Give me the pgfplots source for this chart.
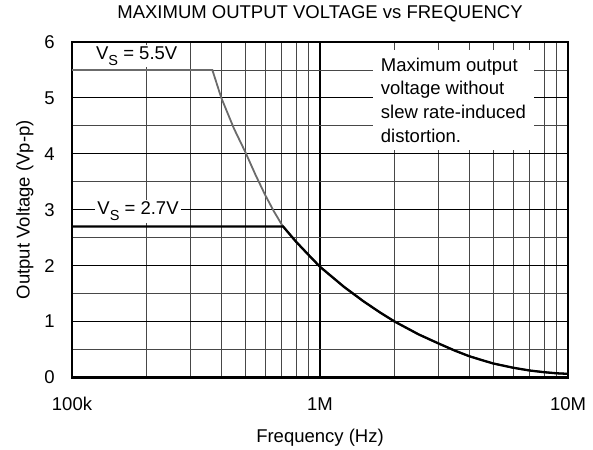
\documentclass[border=0pt]{standalone}
\usepackage{fontspec}
\setmainfont{Liberation Sans}
\usepackage{pgfplots}
\pgfplotsset{compat=1.18}
\newcommand{\subS}{\raisebox{-0.32em}{\fontsize{14.5}{14.5}\selectfont S}}
\begin{document}
\fontsize{18.5}{23.7}\selectfont
\begin{tikzpicture}
\begin{semilogxaxis}[name=ax, scale only axis, width=496pt, height=335.5pt,
 xmin=1e5, xmax=1e7, ymin=0, ymax=6,
 xtick={1e5,1e6,1e7}, xticklabels={100k,1M,10M},
 minor xtick={2e5,3e5,4e5,5e5,6e5,7e5,8e5,9e5,2e6,3e6,4e6,5e6,6e6,7e6,8e6,9e6},
 ytick={0,1,2,3,4,5,6}, minor ytick={0.5,1.5,2.5,3.5,4.5,5.5},
 grid=both,
 major x grid style={black, line width=2pt},
 minor x grid style={black!72, line width=0.9pt},
 major y grid style={black, line width=0.9pt},
 minor y grid style={black!72, line width=0.9pt},
 axis line style={line width=2.5pt},
 major tick length=0pt, minor tick length=0pt,
 /pgf/number format/assume math mode=true,
 tick label style={font=\fontsize{18.5}{22}\selectfont},
 xticklabel style={anchor=base, yshift=-33pt},
 yticklabel style={anchor=east, xshift=-11pt},
 title={MAXIMUM OUTPUT VOLTAGE vs FREQUENCY},
 title style={at={(0.5,1.0507)}, anchor=base, font=\fontsize{18.5}{22}\selectfont},
 xlabel={Frequency (Hz)},
 xlabel style={at={(0.5,-0.1943)}, anchor=base, font=\fontsize{18.5}{22}\selectfont},
 ylabel={Output Voltage (Vp-p)},
 ylabel style={at={(-0.0857,0.5)}, anchor=base, font=\fontsize{18.5}{22}\selectfont},
]
\addplot[color=black!58, line width=1.8pt] coordinates {
 (1e5,5.5) (3.68e5,5.5) (4e5,5.0) (4.5e5,4.45) (5e5,4.03) (5.5e5,3.62) (6e5,3.27)
 (6.5e5,2.98) (7e5,2.74) (7.1e5,2.70) (8e5,2.43) (9e5,2.19) (1e6,1.98)
 (1.25e6,1.62) (1.5e6,1.36) (1.75e6,1.16) (2e6,1.0) (2.5e6,0.77) (3e6,0.61)
 (3.5e6,0.48) (4e6,0.38) (4.5e6,0.31) (5e6,0.25) (6e6,0.175) (7e6,0.125)
 (8e6,0.095) (9e6,0.075) (1e7,0.065)};
\addplot[color=black, line width=2.3pt] coordinates {
 (1e5,2.7) (7.1e5,2.70) (8e5,2.43) (9e5,2.19) (1e6,1.98)
 (1.25e6,1.62) (1.5e6,1.36) (1.75e6,1.16) (2e6,1.0) (2.5e6,0.77) (3e6,0.61)
 (3.5e6,0.48) (4e6,0.38) (4.5e6,0.31) (5e6,0.25) (6e6,0.175) (7e6,0.125)
 (8e6,0.095) (9e6,0.075) (1e7,0.065)};
\node[fill=white, inner sep=2pt, anchor=base west] at (axis cs:1.226e5,5.69) {V\subS{} = 5.5V};
\node[fill=white, inner sep=2pt, anchor=base west] at (axis cs:1.241e5,2.91) {V\subS{} = 2.7V};
\node[fill=white, inner xsep=7.7pt, inner ysep=7.7pt, anchor=north west, align=left,
 font=\fontsize{18.5}{23.7}\selectfont] at (axis cs:1.636e6,5.859)
 {Maximum output\\voltage without\\slew rate-induced\\distortion.};
\end{semilogxaxis}
\pgfresetboundingbox
\useasboundingbox ([shift={(-72pt,-72.5pt)}]ax.south west) rectangle ([shift={(25pt,42pt)}]ax.north east);
\end{tikzpicture}
\end{document}
